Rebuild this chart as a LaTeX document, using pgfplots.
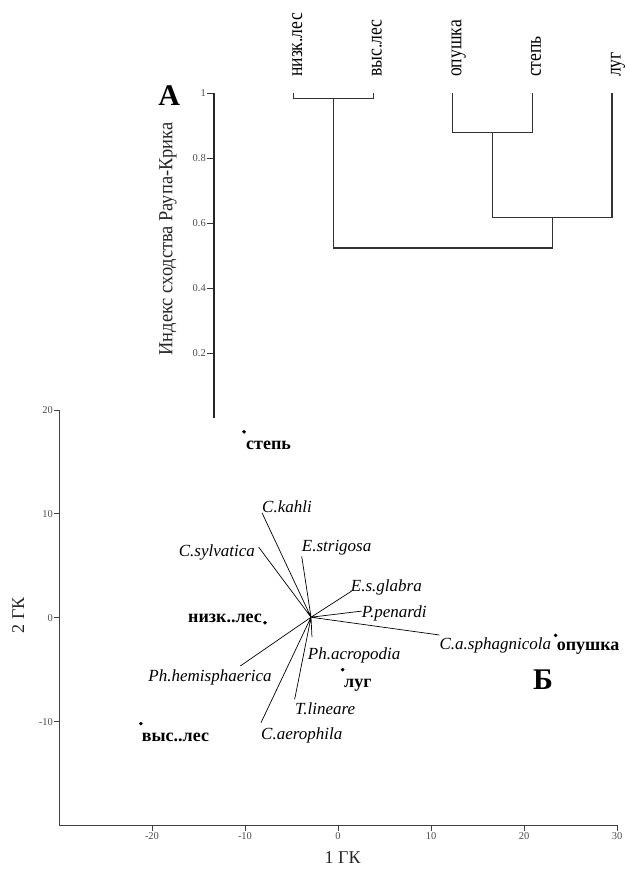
\documentclass[border=0pt]{standalone}
\usepackage{pgfplots}
\pgfplotsset{compat=1.18}
\usepackage{fontspec}
\setmainfont{Liberation Serif}
\newcommand{\leaflab}[1]{\scalebox{0.84}[1]{\fontsize{21}{21}\selectfont #1}}
\newcommand{\spn}[1]{{\fontsize{17}{17}\selectfont\itshape #1}}
\newcommand{\site}[1]{{\fontsize{18}{18}\selectfont\bfseries #1}}
\begin{document}
\begin{tikzpicture}
\useasboundingbox (0pt,0pt) rectangle (627pt,870pt);

% ---------------- A: dendrogram ----------------
\begin{axis}[
  at={(214pt,452pt)}, anchor=south west,
  scale only axis, width=398pt, height=325pt,
  xmin=0, xmax=5, ymin=0, ymax=1,
  axis x line=none, axis y line=left,
  axis line style={-, line width=1.3pt, black!85},
  ytick={0.2,0.4,0.6,0.8,1}, yticklabels={0.2,0.4,0.6,0.8,1},
  tick align=outside, major tick length=7pt,
  tick style={line width=0.8pt, black!80},
  yticklabel style={font=\fontsize{10.5}{10.5}\selectfont, text=black!70, inner sep=1pt},
  clip=false,
]
\addplot[line width=1.1pt, black!80, unbounded coords=jump] coordinates {
  (1,1)(1,0.982)(2,0.982)(2,1) (nan,nan)
  (1.5,0.982)(1.5,0.523)(4.25,0.523)(4.25,0.618) (nan,nan)
  (3,1)(3,0.878)(4,0.878)(4,1) (nan,nan)
  (3.5,0.878)(3.5,0.618)(5,0.618)(5,1)
};
\node[rotate=90, anchor=base west, inner sep=0pt] at (axis cs:1.107,1.049) {\leaflab{низк.лес}};
\node[rotate=90, anchor=base west, inner sep=0pt] at (axis cs:2.107,1.049) {\leaflab{выс.лес}};
\node[rotate=90, anchor=base west, inner sep=0pt] at (axis cs:3.107,1.049) {\leaflab{опушка}};
\node[rotate=90, anchor=base west, inner sep=0pt] at (axis cs:4.107,1.049) {\leaflab{степь}};
\node[rotate=90, anchor=base west, inner sep=0pt] at (axis cs:5.107,1.049) {\leaflab{луг}};
\node[rotate=90, anchor=center, inner sep=0pt, text=black!85] at (axis cs:-0.577,0.551) {\scalebox{0.92}[1]{\fontsize{20}{20}\selectfont Индекс сходства Раупа-Крика}};
\node[anchor=base, inner sep=0pt] at (axis cs:-0.564,0.963) {\fontsize{30}{30}\selectfont\bfseries А};
\end{axis}

% ---------------- Б: ordination ----------------
\begin{axis}[
  at={(59pt,44.5pt)}, anchor=south west,
  scale only axis, width=558pt, height=415.5pt,
  xmin=-30, xmax=30, ymin=-20, ymax=20,
  axis x line=bottom, axis y line=left,
  axis line style={-, line width=1pt, black!75},
  xtick={-20,-10,0,10,20,30}, xticklabels={-20,-10,0,10,20,30},
  ytick={-10,0,10,20}, yticklabels={-10,0,10,20},
  tick align=outside, major tick length=5pt,
  tick style={line width=0.8pt, black!75},
  xticklabel style={font=\fontsize{10.5}{10.5}\selectfont, text=black!70, inner sep=2pt},
  yticklabel style={font=\fontsize{10.5}{10.5}\selectfont, text=black!70, inner sep=1pt},
  clip=false,
]
\addplot[black, line width=0.7pt, unbounded coords=jump] coordinates {
  (-2.9,0.05)(-8.17,10.1) (nan,nan)
  (-2.9,0.05)(-8.53,6.8) (nan,nan)
  (-2.9,0.05)(-3.9,5.9) (nan,nan)
  (-2.9,0.05)(1.47,2.57) (nan,nan)
  (-2.9,0.05)(2.55,0.64) (nan,nan)
  (-2.9,0.05)(10.9,-1.66) (nan,nan)
  (-2.9,0.05)(-2.8,-1.85) (nan,nan)
  (-2.9,0.05)(-4.66,-7.85) (nan,nan)
  (-2.9,0.05)(-8.28,-10.1) (nan,nan)
  (-2.9,0.05)(-10.5,-4.64)
};
\addplot[only marks, mark=*, mark size=1.6pt, black] coordinates {
  (-10.1,17.9) (-7.85,-0.48) (-21.2,-10.2) (23.4,-1.7) (0.5,-5.0)
};
% site labels
\node[anchor=base west, inner sep=0pt] at (axis cs:-9.89,16.23) {\site{степь}};
\node[anchor=base east, inner sep=0pt] at (axis cs:-8.17,-0.5) {\site{низк..лес}};
\node[anchor=base west, inner sep=0pt] at (axis cs:-21.1,-11.9) {\site{выс..лес}};
\node[anchor=base west, inner sep=0pt] at (axis cs:23.5,-3.2) {\site{опушка}};
\node[anchor=base west, inner sep=0pt] at (axis cs:0.65,-6.75) {\site{луг}};
% species labels
\node[anchor=base west, inner sep=0pt] at (axis cs:-8.17,10.1) {\spn{C.kahli}};
\node[anchor=base east, inner sep=0pt] at (axis cs:-8.92,5.94) {\spn{C.sylvatica}};
\node[anchor=base west, inner sep=0pt] at (axis cs:-3.9,6.33) {\spn{E.strigosa}};
\node[anchor=base west, inner sep=0pt] at (axis cs:1.37,2.48) {\spn{E.s.glabra}};
\node[anchor=base west, inner sep=0pt] at (axis cs:2.55,-0.02) {\spn{P.penardi}};
\node[anchor=base west, inner sep=0pt] at (axis cs:10.9,-3.1) {\spn{C.a.sphagnicola}};
\node[anchor=base west, inner sep=0pt] at (axis cs:-3.26,-4.06) {\spn{Ph.acropodia}};
\node[anchor=base west, inner sep=0pt] at (axis cs:-4.62,-9.3) {\spn{T.lineare}};
\node[anchor=base west, inner sep=0pt] at (axis cs:-8.28,-11.75) {\spn{C.aerophila}};
\node[anchor=base west, inner sep=0pt] at (axis cs:-20.4,-6.14) {\spn{Ph.hemisphaerica}};
% panel letter and axis titles
\node[anchor=center, inner sep=0pt] at (axis cs:22.05,-5.98) {\fontsize{30}{30}\selectfont\bfseries Б};
\node[rotate=90, anchor=center, inner sep=0pt, text=black!85] at (axis cs:-34.4,0.22) {\fontsize{18}{18}\selectfont 2 ГК};
\node[anchor=center, inner sep=0pt, text=black!85] at (axis cs:0.5,-23.1) {\fontsize{18}{18}\selectfont 1 ГК};
\end{axis}
\end{tikzpicture}
\end{document}
